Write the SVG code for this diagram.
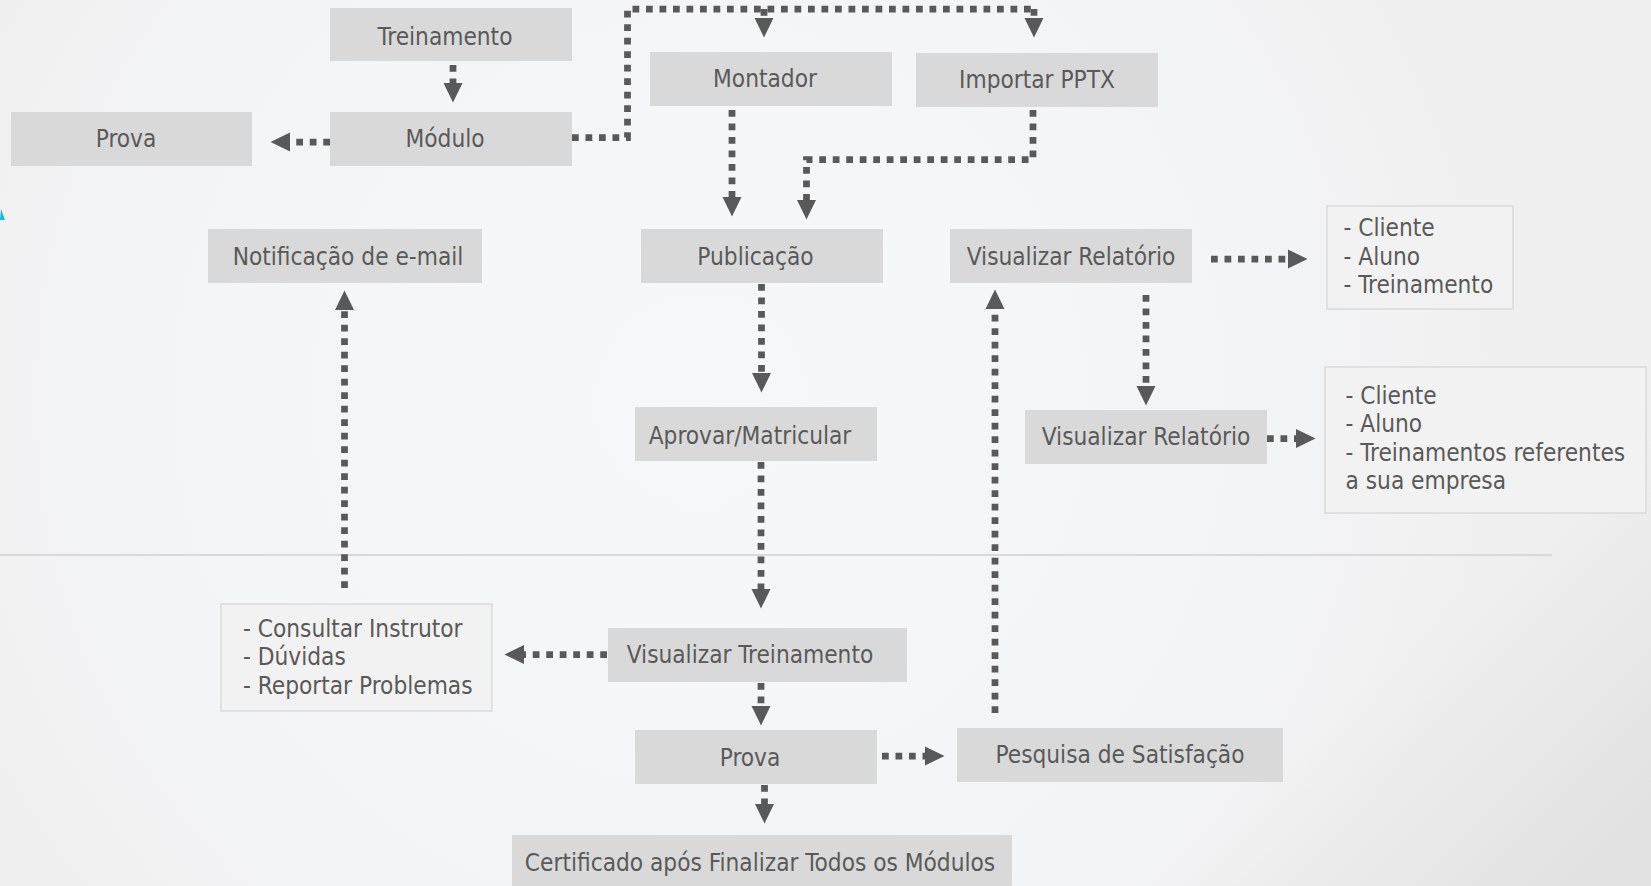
<svg xmlns="http://www.w3.org/2000/svg" width="1651" height="886" viewBox="0 0 1651 886">
<defs>
<radialGradient id="bgGlow" cx="700" cy="400" r="800" gradientUnits="userSpaceOnUse">
<stop offset="0" stop-color="#f6f8fa"/>
<stop offset="0.7" stop-color="#f3f4f6"/>
<stop offset="1" stop-color="#f0f0f0"/>
</radialGradient>
<linearGradient id="corner" x1="1450" y1="600" x2="1651" y2="800" gradientUnits="userSpaceOnUse">
<stop offset="0" stop-color="#e2e2e2" stop-opacity="0"/>
<stop offset="1" stop-color="#e2e2e2" stop-opacity="1"/>
</linearGradient>
<marker id="arr" viewBox="0 0 20 20" refX="0" refY="10" markerWidth="20" markerHeight="20" markerUnits="userSpaceOnUse" orient="auto">
<path d="M0,0.5 L19.5,10 L0,19.5 Z" fill="#595959"/>
</marker>
<style>
.box{fill:#d9d9d9}
.list{fill:#f2f2f2;stroke:#dadada;stroke-width:1.5}
.t{font-family:"DejaVu Sans Condensed","DejaVu Sans",sans-serif;font-stretch:condensed;font-size:24.2px;fill:#595959}
.c{text-anchor:middle}
.con{fill:none;stroke:#595959;stroke-width:6.75;stroke-dasharray:6.75 6.75}
.ar{marker-end:url(#arr)}
</style>
</defs>
<rect x="0" y="0" width="1651" height="886" fill="url(#bgGlow)"/>
<rect x="0" y="0" width="1651" height="886" fill="url(#corner)"/>
<line x1="0" y1="555" x2="1552" y2="555" stroke="#d9d9d9" stroke-width="2"/>
<path d="M1,209 L5,220 L0,220 Z" fill="#1fb3d6"/>

<g id="connectors">
<path class="con ar" d="M453,65 V83"/>
<path class="con ar" d="M330,142 H290"/>
<path class="con" d="M572,137.5 H627.5 V9 H1034"/>
<path class="con ar" d="M1034,9 V18"/>
<path class="con ar" d="M764,9 V18"/>
<path class="con ar" d="M732,110 V197"/>
<path class="con ar" d="M1033,110 V159.5 H806.5 V200"/>
<path class="con ar" d="M761.5,284 V373"/>
<path class="con ar" d="M761,462 V589"/>
<path class="con ar" d="M761,683 V706"/>
<path class="con ar" d="M764.5,785 V804"/>
<path class="con ar" d="M882,756 H925"/>
<path class="con ar" d="M995,713 V309"/>
<path class="con ar" d="M1211,259 H1288"/>
<path class="con ar" d="M1146,295 V386"/>
<path class="con ar" d="M1267,438.5 H1296"/>
<path class="con ar" d="M607,654.5 H524"/>
<path class="con ar" d="M344.5,588 V310"/>
</g>

<g id="n-treinamento"><rect class="box" x="330" y="8" width="242" height="53"/><text class="t c" x="445" y="44.5">Treinamento</text></g>
<g id="n-modulo"><rect class="box" x="330" y="112" width="242" height="54"/><text class="t c" x="445" y="147">Módulo</text></g>
<g id="n-prova-top"><rect class="box" x="11" y="112" width="241" height="54"/><text class="t c" x="126" y="147">Prova</text></g>
<g id="n-notificacao"><rect class="box" x="208" y="229" width="274" height="54"/><text class="t c" x="348" y="264.5">Notificação de e-mail</text></g>
<g id="n-montador"><rect class="box" x="650" y="52" width="242" height="54"/><text class="t c" x="765" y="87">Montador</text></g>
<g id="n-importar"><rect class="box" x="916" y="53" width="242" height="54"/><text class="t c" x="1037" y="88">Importar PPTX</text></g>
<g id="n-publicacao"><rect class="box" x="641" y="229" width="242" height="54"/><text class="t c" x="755.5" y="265">Publicação</text></g>
<g id="n-visrel1"><rect class="box" x="950" y="229" width="242" height="54"/><text class="t c" x="1071" y="265">Visualizar Relatório</text></g>
<g id="n-lista1"><rect class="list" x="1327" y="206" width="186" height="103"/>
<text class="t" x="1343.5" y="235.5">- Cliente</text><text class="t" x="1343.5" y="264.5">- Aluno</text><text class="t" x="1343.5" y="292.5">- Treinamento</text></g>
<g id="n-aprovar"><rect class="box" x="635" y="407" width="242" height="54"/><text class="t c" x="750" y="443.5">Aprovar/Matricular</text></g>
<g id="n-visrel2"><rect class="box" x="1025" y="410" width="242" height="54"/><text class="t c" x="1146" y="445">Visualizar Relatório</text></g>
<g id="n-lista2"><rect class="list" x="1325" y="367" width="321" height="146"/>
<text class="t" x="1345.5" y="403.5">- Cliente</text><text class="t" x="1345.5" y="432">- Aluno</text><text class="t" x="1345.5" y="460.5">- Treinamentos referentes</text><text class="t" x="1345.5" y="489">a sua empresa</text></g>
<g id="n-listaconsultar"><rect class="list" x="221" y="604" width="271" height="107"/>
<text class="t" x="243" y="636.5">- Consultar Instrutor</text><text class="t" x="243" y="665">- Dúvidas</text><text class="t" x="243" y="694">- Reportar Problemas</text></g>
<g id="n-vistreino"><rect class="box" x="608" y="628" width="299" height="54"/><text class="t c" x="750" y="663">Visualizar Treinamento</text></g>
<g id="n-prova-bottom"><rect class="box" x="635" y="730" width="242" height="54"/><text class="t c" x="750" y="766">Prova</text></g>
<g id="n-pesquisa"><rect class="box" x="957" y="728" width="326" height="54"/><text class="t c" x="1120" y="763">Pesquisa de Satisfação</text></g>
<g id="n-certificado"><rect class="box" x="512" y="835" width="500" height="60"/><text class="t c" x="760" y="871">Certificado após Finalizar Todos os Módulos</text></g>
</svg>
